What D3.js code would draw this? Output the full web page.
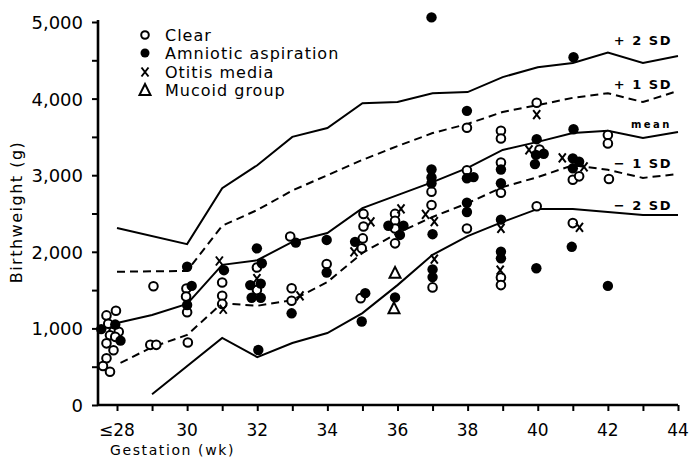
<!DOCTYPE html>
<html>
<head>
<meta charset="utf-8">
<script src="https://cdn.jsdelivr.net/npm/d3@7"></script>
<style>
  html, body { margin: 0; padding: 0; background: #fff; }
  svg { display: block; font-family: "DejaVu Sans", sans-serif; }
</style>
</head>
<body>
<div id="chart"></div>
<script>
  "use strict";

  // gestation (wk), birthweight (g)
  var clearPts = [
    [27.7, 1170], [27.97, 1230], [27.75, 1060], [27.9, 960], [28.05, 955], [27.8, 910],
    [27.95, 890], [27.7, 805], [27.9, 715], [27.7, 610], [27.6, 510], [27.8, 435],
    [29.04, 1550], [28.95, 785], [29.12, 785],
    [29.98, 1520], [29.97, 1415], [30, 1210], [30.02, 815],
    [31, 1600], [31, 1425], [31, 1320],
    [31.99, 1795], [31.99, 1500],
    [32.94, 2200], [32.98, 1525], [32.98, 1360],
    [33.98, 1840],
    [35.03, 2495], [35.03, 2330], [35.01, 2175], [34.98, 2045], [34.95, 1395],
    [35.93, 2495], [35.93, 2405], [35.93, 2305], [35.93, 2110],
    [36.97, 2785], [36.97, 2610], [37, 1535],
    [37.98, 3620], [37.98, 3065], [37.98, 2305],
    [38.95, 3580], [38.95, 3480], [38.95, 3165], [38.95, 2770], [38.95, 1665], [38.95, 1565],
    [39.97, 3945], [40.05, 3335], [39.97, 2595],
    [41, 2940], [41.18, 2985], [41, 2375],
    [42, 3525], [42, 3415], [42.03, 2950]
  ];
  var amnioticPts = [
    [27.55, 990], [27.95, 1050], [28.1, 840],
    [30, 1805], [30.13, 1555], [30, 1305],
    [31.05, 1760],
    [31.99, 2045], [32.13, 1850], [31.8, 1565], [32.1, 1585], [31.84, 1400], [32.1, 1400], [32.03, 718],
    [33.1, 2120], [32.98, 1197],
    [33.98, 2155], [33.98, 1730],
    [34.79, 2130], [35.08, 1460], [34.98, 1090],
    [35.74, 2340], [36.17, 2340], [36.07, 2220], [35.93, 1405],
    [36.97, 5060], [36.97, 3075], [36.97, 2970], [36.97, 2895], [37, 2230], [37, 1770], [37, 1670],
    [37.98, 3840], [37.98, 2960], [38.17, 2975], [37.98, 2640], [37.98, 2520],
    [38.95, 3075], [38.95, 2895], [38.95, 2420], [38.95, 2000], [38.95, 1915],
    [39.97, 3470], [39.95, 3265], [40.17, 3280], [39.92, 3145], [39.96, 1785],
    [41.02, 4540], [41.02, 3600], [41, 3220], [41.18, 3175], [41, 3090], [40.97, 2065],
    [42, 1555]
  ];
  var otitisPts = [
    [30.92, 1880], [31.03, 1250],
    [31.99, 1650],
    [33.22, 1425],
    [35.24, 2390], [34.76, 2000],
    [36.1, 2560],
    [36.8, 2490], [37.05, 2395], [37.05, 1905],
    [38.95, 2305], [38.93, 1760],
    [39.97, 3790], [39.75, 3330],
    [40.7, 3225], [41.32, 3110], [41.19, 2320]
  ];
  var mucoidPts = [[35.93, 1725], [35.9, 1262]];

  // reference centiles
  var plus2SD = [[28, 2310], [30, 2100], [31, 2830], [32, 3130], [33, 3500], [34, 3615], [35, 3940], [36, 3955],
    [37, 4070], [38, 4085], [39, 4280], [40, 4410], [41, 4465], [42, 4600], [43, 4465], [44, 4555]];
  var plus1SD = [[28, 1740], [30, 1750], [31, 2340], [32, 2545], [33, 2800], [34, 3000], [35, 3200], [36, 3380],
    [37, 3550], [38, 3670], [39, 3825], [40, 3915], [41, 4010], [42, 4070], [43, 3955], [44, 4100]];
  var meanSD = [[28, 1070], [29, 1175], [30, 1320], [31, 1830], [32, 1890], [33, 2130], [34, 2245], [35, 2570],
    [36, 2740], [37, 2910], [38, 3095], [39, 3330], [40, 3435], [41, 3550], [42, 3580], [43, 3485], [44, 3565]];
  var minus1SD = [[28.1, 550], [29, 755], [30, 915], [31, 1330], [32, 1295], [33, 1370], [34, 1605], [35, 1985],
    [36, 2245], [37, 2455], [38, 2635], [39, 2845], [40, 2975], [41, 3130], [42, 3070], [43, 2965], [44, 3015]];
  var minus2SD = [[29, 140], [31, 875], [32, 625], [33, 810], [34, 940], [35, 1200], [36, 1565], [37, 1960],
    [38, 2205], [39, 2390], [40, 2560], [41, 2560], [42, 2520], [43, 2480], [44, 2480]];

  var xTickWeeks = [28, 30, 32, 34, 36, 38, 40, 42, 44];
  var xTickLabels = ["\u226428", "30", "32", "34", "36", "38", "40", "42", "44"];
  var yTickValues = [0, 1000, 2000, 3000, 4000, 5000];
  var yTickLabels = ["0", "1,000", "2,000", "3,000", "4,000", "5,000"];
  var legendLabels = ["Clear", "Amniotic aspiration", "Otitis media", "Mucoid group"];
  var curveLabels = ["+ 2 SD", "+ 1 SD", "mean", "\u2212 1 SD", "\u2212 2 SD"];

  var width = 689, height = 457;

  var svg = d3.select("#chart").append("svg")
    .attr("width", width)
    .attr("height", height);

  var x = d3.scaleLinear().domain([28, 44]).range([117, 678]);
  var y = d3.scaleLinear().domain([0, 5000]).range([405, 22]);

  // axes
  var xAxis = d3.axisBottom(x)
    .tickValues(d3.range(28, 45, 1))
    .tickSize(6)
    .tickFormat("");
  var gx = svg.append("g").attr("transform", "translate(0," + y(0) + ")").call(xAxis);
  gx.select(".domain").attr("d", "M98,0H" + x(44));

  var yAxis = d3.axisLeft(y)
    .tickValues(d3.range(0, 5001, 500))
    .tickSize(6)
    .tickFormat("");
  var gy = svg.append("g").attr("transform", "translate(98,0)").call(yAxis);
  gy.select(".domain").attr("d", "M0," + (y(5000) - 2) + "V" + (y(0) + 1));

  svg.selectAll(".domain").attr("stroke", "#000").attr("stroke-width", 2.6);
  svg.selectAll(".tick line").attr("stroke", "#000").attr("stroke-width", 2);

  // tick labels
  svg.append("g").selectAll("text")
    .data(xTickWeeks)
    .join("text")
    .attr("x", function (d) { return x(d); })
    .attr("y", 436)
    .attr("text-anchor", "middle")
    .style("font-size", "17px")
    .text(function (d, i) { return xTickLabels[i]; });

  svg.append("g").selectAll("text")
    .data(yTickValues)
    .join("text")
    .attr("x", 83)
    .attr("y", function (d) { return y(d) + 7; })
    .attr("text-anchor", "end")
    .style("font-size", "18px")
    .text(function (d, i) { return yTickLabels[i]; });

  // axis titles
  svg.append("text")
    .attr("x", 110).attr("y", 455)
    .style("font-size", "14px").style("letter-spacing", "1.6px")
    .text("Gestation (wk)");
  svg.append("text")
    .attr("transform", "translate(22,212) rotate(-90)")
    .attr("text-anchor", "middle")
    .style("font-size", "16px").style("letter-spacing", "1.5px")
    .text("Birthweight (g)");

  // curves
  var line = d3.line()
    .x(function (d) { return x(d[0]); })
    .y(function (d) { return y(d[1]); });

  var curves = [
    { data: plus2SD, dash: null },
    { data: plus1SD, dash: "8,5" },
    { data: meanSD, dash: null },
    { data: minus1SD, dash: "8,5" },
    { data: minus2SD, dash: null }
  ];
  svg.append("g").selectAll("path")
    .data(curves)
    .join("path")
    .attr("d", function (d) { return line(d.data); })
    .attr("fill", "none")
    .attr("stroke", "#000")
    .attr("stroke-width", 2)
    .attr("stroke-dasharray", function (d) { return d.dash; });

  // curve labels
  var curveLabelY = [45, 89, 128, 168, 210];
  svg.append("g").selectAll("text")
    .data(curveLabels)
    .join("text")
    .attr("x", 672)
    .attr("y", function (d, i) { return curveLabelY[i]; })
    .attr("text-anchor", "end")
    .style("font-size", function (d) { return d === "mean" ? "10px" : "13px"; })
    .style("font-weight", "bold")
    .style("letter-spacing", function (d) { return d === "mean" ? "2.5px" : "1.5px"; })
    .text(function (d) { return d; });

  // markers
  var marks = svg.append("g");

  function drawCross(g, cx, cy) {
    g.append("path")
      .attr("d", "M" + (cx - 3.5) + "," + (cy - 4.5) + "L" + (cx + 3.5) + "," + (cy + 4.5) +
        "M" + (cx + 3.5) + "," + (cy - 4.5) + "L" + (cx - 3.5) + "," + (cy + 4.5))
      .attr("stroke", "#000")
      .attr("stroke-width", 2)
      .attr("fill", "none");
  }
  function drawTriangle(g, cx, cy) {
    g.append("path")
      .attr("d", "M" + cx + "," + (cy - 6) + "L" + (cx + 5.5) + "," + (cy + 5) + "L" + (cx - 5.5) + "," + (cy + 5) + "Z")
      .attr("stroke", "#000")
      .attr("stroke-width", 2)
      .attr("fill", "#fff");
  }

  marks.selectAll("circle.clear")
    .data(clearPts)
    .join("circle")
    .attr("class", "clear")
    .attr("cx", function (d) { return x(d[0]); })
    .attr("cy", function (d) { return y(d[1]); })
    .attr("r", 4.3)
    .attr("fill", "#fff")
    .attr("stroke", "#000")
    .attr("stroke-width", 2);

  marks.selectAll("circle.amn")
    .data(amnioticPts)
    .join("circle")
    .attr("class", "amn")
    .attr("cx", function (d) { return x(d[0]); })
    .attr("cy", function (d) { return y(d[1]); })
    .attr("r", 5.2)
    .attr("fill", "#000");

  otitisPts.forEach(function (d) { drawCross(marks, x(d[0]), y(d[1])); });
  mucoidPts.forEach(function (d) { drawTriangle(marks, x(d[0]), y(d[1])); });

  // legend
  var legend = svg.append("g");
  var legendY = [35, 53, 72, 90];
  legend.append("circle").attr("cx", 145).attr("cy", legendY[0]).attr("r", 3.8)
    .attr("fill", "#fff").attr("stroke", "#000").attr("stroke-width", 2);
  legend.append("circle").attr("cx", 145).attr("cy", legendY[1]).attr("r", 4.5).attr("fill", "#000");
  drawCross(legend, 145, legendY[2]);
  drawTriangle(legend, 145, legendY[3]);
  legend.selectAll("text")
    .data(legendLabels)
    .join("text")
    .attr("x", 165)
    .attr("y", function (d, i) { return legendY[i] + 6; })
    .style("font-size", "16px")
    .style("letter-spacing", "1px")
    .text(function (d) { return d; });
</script>
</body>
</html>
